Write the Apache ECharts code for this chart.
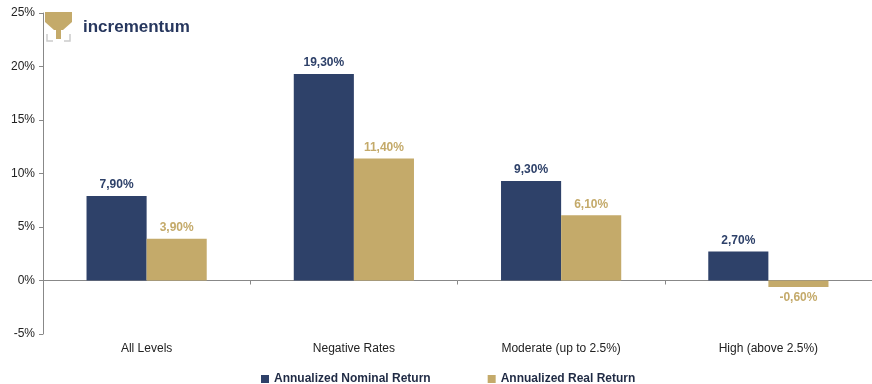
<!DOCTYPE html>
<html>
<head>
<meta charset="utf-8">
<script src="https://cdn.jsdelivr.net/npm/echarts@6/dist/echarts.min.js"></script>
<style>
  html, body { margin: 0; padding: 0; background: #fff; }
  #chart { width: 872px; height: 384px; }
</style>
</head>
<body>
<div id="chart"></div>
<script>
const categories = ['All Levels', 'Negative Rates', 'Moderate (up to 2.5%)', 'High (above 2.5%)']
const nominalReturn = [7.9, 19.3, 9.3, 2.7]
const realReturn = [3.9, 11.4, 6.1, -0.6]
const seriesNames = ['Annualized Nominal Return', 'Annualized Real Return']

const navy = '#2E4169'
const gold = '#C4AA6A'
const font = 'Liberation Sans, Arial, sans-serif'

const fmtPct = (v) => v.toFixed(2).replace('.', ',') + '%'

// negative values get their label under the bar
const withLabelPos = (arr) => arr.map((v) => ({ value: v, label: { position: v < 0 ? 'bottom' : 'top' } }))

const myChart = echarts.init(document.getElementById('chart'))

// small stand-in for the incrementum logo
const logo = [
  { type: 'rect', shape: { x: 56, y: 26, width: 5, height: 13 }, style: { fill: gold } },
  { type: 'polygon', shape: { points: [[45, 12], [72, 12], [72, 22], [63, 30], [54, 30], [45, 22]] }, style: { fill: gold } },
  { type: 'polyline', shape: { points: [[47, 34], [47, 41], [53, 41]] }, style: { stroke: '#ccc', lineWidth: 1.5, fill: null } },
  { type: 'polyline', shape: { points: [[70, 34], [70, 41], [64, 41]] }, style: { stroke: '#ccc', lineWidth: 1.5, fill: null } },
  { type: 'text', style: { x: 83, y: 27, text: 'incrementum', fill: '#27375E', font: 'bold 17px ' + font, textVerticalAlign: 'middle' } }
]

myChart.setOption({
  animation: false,
  textStyle: { fontFamily: font },
  graphic: logo,
  grid: { left: 43, right: 0, top: 13, bottom: 50 },
  legend: {
    top: 368,
    left: 256,
    itemWidth: 8,
    itemHeight: 8,
    itemGap: 57,
    icon: 'rect',
    textStyle: { fontSize: 12, fontWeight: 'bold', color: '#1f2a44', fontFamily: font },
    data: seriesNames
  },
  xAxis: [
    {
      type: 'category',
      data: categories,
      position: 'bottom',
      axisLine: { show: false, onZero: false },
      axisTick: { show: false },
      axisLabel: { color: '#222', fontSize: 12, margin: 9, fontFamily: font }
    },
    {
      type: 'category',
      data: categories,
      position: 'bottom',
      axisLine: { onZero: true, lineStyle: { color: '#888', width: 1 } },
      axisTick: { show: true, length: 4, lineStyle: { color: '#888' } },
      axisLabel: { show: false }
    }
  ],
  yAxis: {
    type: 'value',
    min: -5,
    max: 25,
    interval: 5,
    axisLine: { show: true, lineStyle: { color: '#888' } },
    axisTick: { show: true, length: 4, lineStyle: { color: '#888' } },
    splitLine: { show: false },
    axisLabel: { formatter: '{value}%', color: '#222', fontSize: 12, margin: 8, fontFamily: font }
  },
  series: [
    {
      name: seriesNames[0],
      type: 'bar',
      data: withLabelPos(nominalReturn),
      barGap: '0%',
      barCategoryGap: '42%',
      itemStyle: { color: navy },
      label: { show: true, distance: 5, color: navy, fontWeight: 'bold', fontSize: 12, formatter: (p) => fmtPct(p.value) }
    },
    {
      name: seriesNames[1],
      type: 'bar',
      data: withLabelPos(realReturn),
      barGap: '0%',
      barCategoryGap: '42%',
      itemStyle: { color: gold },
      label: { show: true, distance: 5, color: gold, fontWeight: 'bold', fontSize: 12, formatter: (p) => fmtPct(p.value) }
    }
  ]
})
</script>
</body>
</html>
